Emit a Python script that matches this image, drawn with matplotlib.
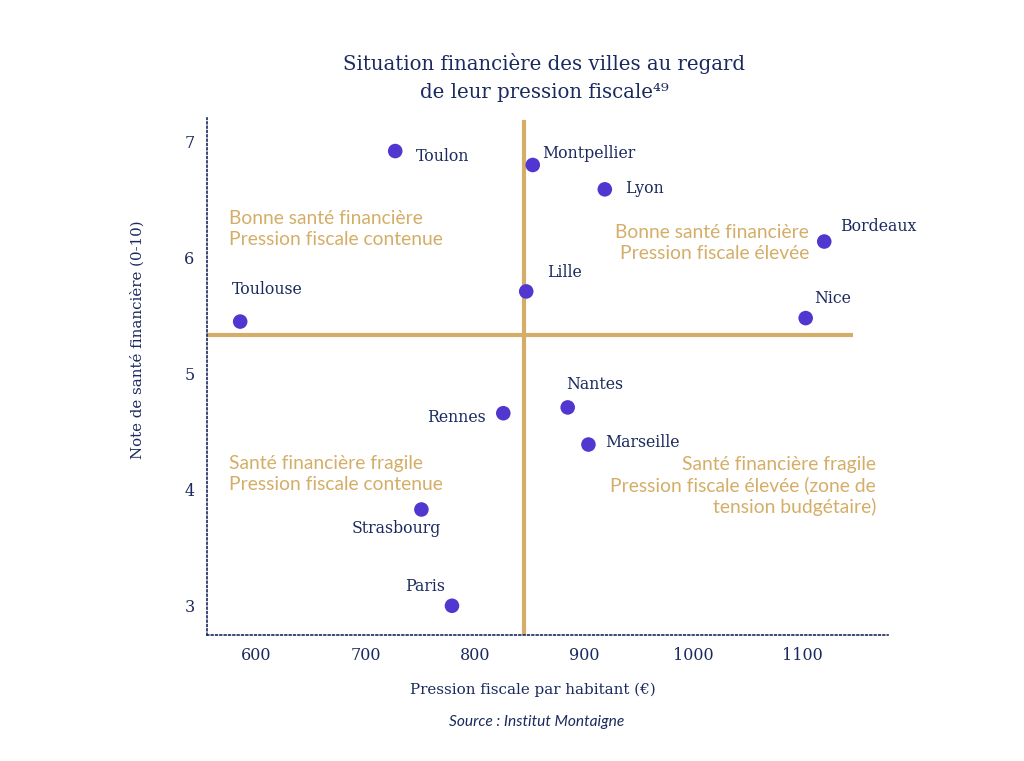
import matplotlib
matplotlib.use("Agg")
import matplotlib.pyplot as plt

cities = ["Toulon", "Montpellier", "Lyon", "Bordeaux", "Lille", "Toulouse",
          "Nice", "Rennes", "Nantes", "Marseille", "Strasbourg", "Paris"]
pression = [727, 853, 919, 1120, 847, 585, 1103, 826, 885, 904, 751, 779]
sante = [6.92, 6.80, 6.59, 6.14, 5.71, 5.45, 5.48, 4.66, 4.71, 4.39, 3.83, 3.00]
x_ticks = [600, 700, 800, 900, 1000, 1100]
y_ticks = [3, 4, 5, 6, 7]
median_x = 845
median_y = 5.33

NAVY = "#1B2A5E"
GOLD = "#D4AE68"
DOT = "#5136D0"
SERIF = "DejaVu Serif"
SANS = "Lato"

# label offsets in px (dx, dy up), alignment
offsets = {
    "Toulon": (21, -5, "left"),
    "Montpellier": (9, 11, "left"),
    "Lyon": (20, 1, "left"),
    "Bordeaux": (16, 15, "left"),
    "Lille": (21, 19, "left"),
    "Toulouse": (-8, 32, "left"),
    "Nice": (8, 20, "left"),
    "Rennes": (-18, -4, "right"),
    "Nantes": (-2, 23, "left"),
    "Marseille": (17, 2, "left"),
    "Strasbourg": (-25, -19, "center"),
    "Paris": (-27, 19, "center"),
}

W, H = 1024, 761
fig = plt.figure(figsize=(W / 100, H / 100), dpi=100)
ax = fig.add_axes([207 / W, 1 - 635 / H, (888 - 207) / W, (635 - 118) / H])
ax.set_xlim(554.6, 1178.4)
ax.set_ylim(2.748, 7.205)

for s in ["top", "right"]:
    ax.spines[s].set_visible(False)
for s in ["left", "bottom"]:
    ax.spines[s].set_linestyle((0, (1.0, 1.6)))
    ax.spines[s].set_color(NAVY)
    ax.spines[s].set_linewidth(1.2)

ax.axvline(median_x, ymin=0, ymax=(7.17 - 2.748) / (7.205 - 2.748), color=GOLD, lw=3, zorder=1)
ax.plot([554.6, 1146], [median_y, median_y], color=GOLD, lw=3, zorder=1, solid_capstyle="butt")

ax.scatter(pression, sante, s=110, color=DOT, zorder=3, edgecolors="none")
px2pt = 0.72
for c, x, y in zip(cities, pression, sante):
    dx, dy, ha = offsets[c]
    ax.annotate(c, (x, y), xytext=(dx * px2pt, dy * px2pt), textcoords="offset points",
                ha=ha, va="center", fontsize=11.3, color=NAVY, family=SERIF)

ax.set_xticks(x_ticks)
ax.set_yticks(y_ticks)
ax.tick_params(length=0, labelsize=11.5, labelcolor=NAVY)
for lab in ax.get_xticklabels() + ax.get_yticklabels():
    lab.set_family(SERIF)
ax.tick_params(axis="y", pad=9)
ax.tick_params(axis="x", pad=9)

fig.text(533 / W, 1 - 690 / H, "Pression fiscale par habitant (€)", ha="center", va="center",
         fontsize=10.9, color=NAVY, family=SERIF)
fig.text(137 / W, 1 - 340 / H, "Note de santé financière (0-10)", ha="center", va="center",
         rotation=90, fontsize=10.8, color=NAVY, family=SERIF)

fig.text(544 / W, 1 - 64 / H, "Situation financière des villes au regard", ha="center", va="center",
         fontsize=14.2, color=NAVY, family=SERIF)
fig.text(544 / W, 1 - 93 / H, "de leur pression fiscale⁴⁹", ha="center", va="center",
         fontsize=14.2, color=NAVY, family=SERIF)

fig.text(537 / W, 1 - 722 / H, "Source : Institut Montaigne", ha="center", va="center",
         fontsize=11.2, color=NAVY, family=SANS, style="italic")

qkw = dict(fontsize=13.9, color=GOLD, family=SANS, va="center", linespacing=1.25)
fig.text(229 / W, 1 - 229 / H, "Bonne santé financière\nPression fiscale contenue", ha="left", **qkw)
fig.text(809 / W, 1 - 243 / H, "Bonne santé financière\nPression fiscale élevée", ha="right",
         multialignment="right", **qkw)
fig.text(229 / W, 1 - 474 / H, "Santé financière fragile\nPression fiscale contenue", ha="left", **qkw)
fig.text(876 / W, 1 - 486 / H, "Santé financière fragile\nPression fiscale élevée (zone de\ntension budgétaire)",
         ha="right", multialignment="right", **qkw)

fig.savefig("out.png", dpi=100)
